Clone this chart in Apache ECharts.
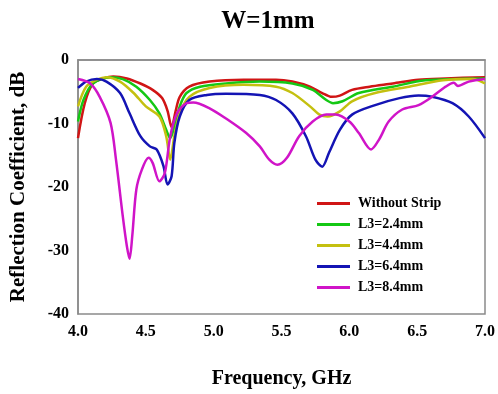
<!DOCTYPE html>
<html>
<head>
<meta charset="utf-8">
<script src="https://cdn.jsdelivr.net/npm/echarts@6/dist/echarts.min.js"></script>
<style>
html,body{margin:0;padding:0;background:#fff;}
#c{width:498px;height:394px;}
</style>
</head>
<body>
<div id="c"></div>
<script>
const seriesNames = ['Without Strip', 'L3=2.4mm', 'L3=4.4mm', 'L3=6.4mm', 'L3=8.4mm'];
const seriesColors = ['#d01515', '#14c814', '#c4c010', '#1414b4', '#d014c8'];
const xTicks = [4.0, 4.5, 5.0, 5.5, 6.0, 6.5, 7.0];
const yTicks = [0, -10, -20, -30, -40];

const redF  = [4.00,4.05,4.11,4.19,4.26,4.36,4.46,4.55,4.62,4.66,4.69,4.72,4.75,4.82,4.97,5.22,5.46,5.58,5.71,5.80,5.87,5.93,6.02,6.15,6.32,6.51,6.71,7.00];
const redDb = [-12.3,-6.8,-3.7,-2.9,-2.6,-2.9,-3.7,-4.7,-6.0,-8.0,-10.6,-8.0,-5.8,-4.2,-3.4,-3.1,-3.1,-3.4,-4.2,-5.2,-5.8,-5.6,-4.7,-4.2,-3.7,-3.1,-2.9,-2.7];

const greenF  = [4.00,4.04,4.11,4.24,4.33,4.43,4.53,4.60,4.65,4.68,4.71,4.75,4.80,4.90,5.09,5.34,5.58,5.73,5.83,5.88,5.95,6.07,6.32,6.56,7.00];
const greenDb = [-9.7,-6.3,-3.7,-2.7,-3.0,-4.2,-6.3,-8.4,-11.0,-12.3,-10.5,-7.3,-5.2,-4.2,-3.7,-3.4,-3.7,-4.7,-6.3,-6.8,-6.5,-5.2,-4.2,-3.2,-2.9];

const yellowF  = [4.00,4.06,4.14,4.21,4.31,4.41,4.50,4.60,4.65,4.68,4.71,4.75,4.82,4.97,5.22,5.46,5.58,5.71,5.78,5.84,5.93,6.02,6.19,6.44,6.69,6.91,7.00];
const yellowDb = [-7.3,-4.2,-3.1,-2.7,-3.4,-5.2,-7.3,-8.9,-12.0,-15.7,-12.0,-8.4,-5.8,-4.4,-3.9,-4.2,-5.2,-7.3,-8.6,-8.9,-8.1,-6.5,-5.2,-4.2,-3.2,-3.0,-3.7];

const blueF  = [4.00,4.06,4.14,4.21,4.31,4.38,4.46,4.53,4.58,4.63,4.66,4.69,4.71,4.75,4.82,4.95,5.09,5.34,5.46,5.58,5.68,5.75,5.80,5.85,5.93,6.02,6.19,6.37,6.51,6.61,6.76,6.88,7.00];
const blueDb = [-4.4,-3.4,-3.0,-3.4,-5.2,-8.4,-12.0,-13.6,-14.1,-16.7,-19.6,-18.3,-13.1,-8.9,-6.3,-5.5,-5.3,-5.5,-6.3,-8.4,-12.0,-15.7,-16.8,-14.6,-11.0,-8.6,-7.1,-6.0,-5.6,-5.8,-6.8,-8.9,-12.3];

const magF  = [4.00,4.09,4.16,4.24,4.28,4.33,4.36,4.38,4.40,4.43,4.47,4.52,4.55,4.60,4.64,4.68,4.73,4.80,4.85,4.97,5.09,5.24,5.34,5.41,5.47,5.54,5.63,5.73,5.83,5.90,6.00,6.07,6.16,6.22,6.29,6.39,6.51,6.61,6.71,6.77,6.80,6.88,7.00];
const magDb = [-3.0,-3.7,-5.8,-9.9,-15.7,-24.6,-29.3,-31.3,-27.7,-20.4,-17.3,-15.4,-16.2,-19.1,-17.8,-12.0,-8.4,-6.8,-6.7,-7.6,-9.2,-11.5,-13.6,-15.7,-16.5,-15.4,-12.0,-9.7,-8.6,-8.6,-9.7,-11.5,-14.1,-12.5,-9.7,-7.8,-7.1,-5.8,-4.2,-3.6,-4.1,-3.4,-3.0];

const allF = [redF, greenF, yellowF, blueF, magF];
const allDb = [redDb, greenDb, yellowDb, blueDb, magDb];

const font = '"Liberation Serif", "DejaVu Serif", serif';
const chart = echarts.init(document.getElementById('c'), null, {renderer: 'canvas'});
chart.setOption({
  animation: false,
  backgroundColor: '#ffffff',
  title: {
    text: 'W=1mm', left: 263, top: 4, textAlign: 'center',
    textStyle: {fontFamily: font, fontWeight: 'bold', fontSize: 25, color: '#000'}
  },
  grid: {left: 78, right: 12, top: 60, bottom: 79, show: true, borderColor: '#8a8a8a', borderWidth: 1.5, backgroundColor: 'transparent'},
  legend: {
    orient: 'vertical', left: 312, top: 191,
    itemWidth: 33, itemHeight: 3, itemGap: 6,
    icon: 'rect',
    data: seriesNames,
    textStyle: {fontFamily: font, fontWeight: 'bold', fontSize: 14, color: '#000', padding: [0,0,0,3], lineHeight: 15}
  },
  xAxis: {
    type: 'value', min: 4, max: 7, interval: 0.5,
    axisLine: {show: true, lineStyle: {color: '#8a8a8a', width: 1.5}},
    axisTick: {show: false}, splitLine: {show: false},
    axisLabel: {formatter: v => v.toFixed(1), fontFamily: font, fontWeight: 'bold', fontSize: 16, color: '#000', margin: 10},
    name: 'Frequency, GHz', nameLocation: 'middle', nameGap: 55,
    nameTextStyle: {fontFamily: font, fontWeight: 'bold', fontSize: 20, color: '#000'}
  },
  yAxis: {
    type: 'value', min: -40, max: 0, interval: 10,
    axisLine: {show: true, lineStyle: {color: '#8a8a8a', width: 1.5}},
    axisTick: {show: false}, splitLine: {show: false},
    axisLabel: {fontFamily: font, fontWeight: 'bold', fontSize: 16, color: '#000', margin: 9},
    name: 'Reflection Coefficient, dB', nameLocation: 'middle', nameGap: 49,
    nameTextStyle: {fontFamily: font, fontWeight: 'bold', fontSize: 21, color: '#000'}
  },
  series: seriesNames.map((n, i) => ({
    name: n, type: 'line', showSymbol: false, symbol: 'none',
    smooth: 0.3,
    color: seriesColors[i],
    lineStyle: {width: 2.5, color: seriesColors[i]},
    data: allF[i].map((f, k) => [f, allDb[i][k]])
  }))
});
</script>
</body>
</html>
